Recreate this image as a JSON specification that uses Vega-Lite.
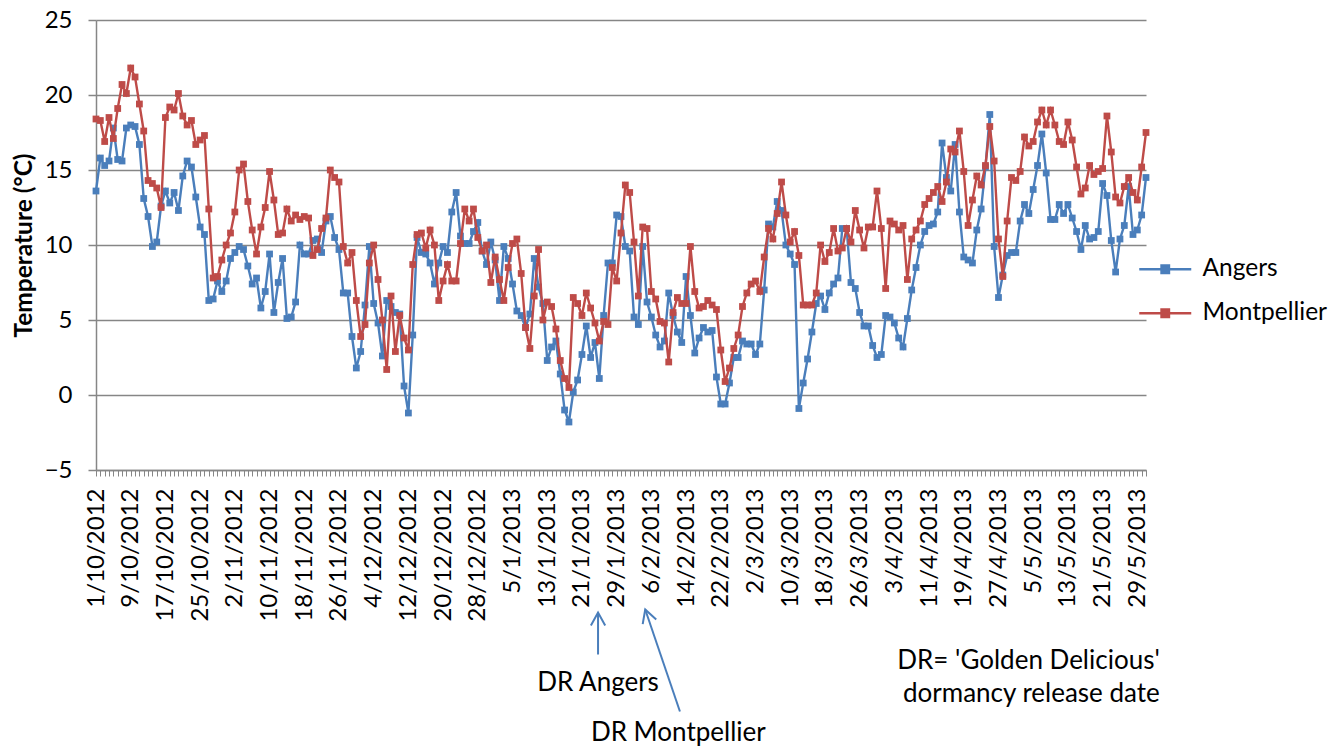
{
  "$schema": "https://vega.github.io/schema/vega-lite/v6.json",
  "width": 1050,
  "height": 450,
  "autosize": {"type": "none"},
  "padding": {"left": 96, "top": 20, "right": 197, "bottom": 279},
  "background": "white",
  "config": {"view": {"stroke": null}, "font": "Lato"},
  "datasets": {
    "temps": [
      {"date":"2012-10-01","Angers":13.6,"Montpellier":18.4},
      {"date":"2012-10-02","Angers":15.8,"Montpellier":18.3},
      {"date":"2012-10-03","Angers":15.3,"Montpellier":16.9},
      {"date":"2012-10-04","Angers":15.6,"Montpellier":18.5},
      {"date":"2012-10-05","Angers":17.8,"Montpellier":17.1},
      {"date":"2012-10-06","Angers":15.7,"Montpellier":19.1},
      {"date":"2012-10-07","Angers":15.6,"Montpellier":20.7},
      {"date":"2012-10-08","Angers":17.8,"Montpellier":20.1},
      {"date":"2012-10-09","Angers":18.0,"Montpellier":21.8},
      {"date":"2012-10-10","Angers":17.9,"Montpellier":21.2},
      {"date":"2012-10-11","Angers":16.7,"Montpellier":19.4},
      {"date":"2012-10-12","Angers":13.1,"Montpellier":17.6},
      {"date":"2012-10-13","Angers":11.9,"Montpellier":14.3},
      {"date":"2012-10-14","Angers":9.9,"Montpellier":14.1},
      {"date":"2012-10-15","Angers":10.2,"Montpellier":13.8},
      {"date":"2012-10-16","Angers":12.6,"Montpellier":12.5},
      {"date":"2012-10-17","Angers":13.6,"Montpellier":18.5},
      {"date":"2012-10-18","Angers":12.8,"Montpellier":19.2},
      {"date":"2012-10-19","Angers":13.5,"Montpellier":19.0},
      {"date":"2012-10-20","Angers":12.3,"Montpellier":20.1},
      {"date":"2012-10-21","Angers":14.6,"Montpellier":18.6},
      {"date":"2012-10-22","Angers":15.6,"Montpellier":18.0},
      {"date":"2012-10-23","Angers":15.2,"Montpellier":18.3},
      {"date":"2012-10-24","Angers":13.2,"Montpellier":16.7},
      {"date":"2012-10-25","Angers":11.2,"Montpellier":17.0},
      {"date":"2012-10-26","Angers":10.7,"Montpellier":17.3},
      {"date":"2012-10-27","Angers":6.3,"Montpellier":12.4},
      {"date":"2012-10-28","Angers":6.4,"Montpellier":7.8},
      {"date":"2012-10-29","Angers":7.6,"Montpellier":7.9},
      {"date":"2012-10-30","Angers":6.9,"Montpellier":9.0},
      {"date":"2012-10-31","Angers":7.6,"Montpellier":10.0},
      {"date":"2012-11-01","Angers":9.1,"Montpellier":10.8},
      {"date":"2012-11-02","Angers":9.5,"Montpellier":12.2},
      {"date":"2012-11-03","Angers":9.9,"Montpellier":15.0},
      {"date":"2012-11-04","Angers":9.7,"Montpellier":15.4},
      {"date":"2012-11-05","Angers":8.6,"Montpellier":12.9},
      {"date":"2012-11-06","Angers":7.4,"Montpellier":11.0},
      {"date":"2012-11-07","Angers":7.8,"Montpellier":9.4},
      {"date":"2012-11-08","Angers":5.8,"Montpellier":11.2},
      {"date":"2012-11-09","Angers":6.9,"Montpellier":12.5},
      {"date":"2012-11-10","Angers":9.4,"Montpellier":14.9},
      {"date":"2012-11-11","Angers":5.5,"Montpellier":13.0},
      {"date":"2012-11-12","Angers":7.5,"Montpellier":10.7},
      {"date":"2012-11-13","Angers":9.1,"Montpellier":10.8},
      {"date":"2012-11-14","Angers":5.1,"Montpellier":12.4},
      {"date":"2012-11-15","Angers":5.2,"Montpellier":11.6},
      {"date":"2012-11-16","Angers":6.2,"Montpellier":12.0},
      {"date":"2012-11-17","Angers":10.0,"Montpellier":11.7},
      {"date":"2012-11-18","Angers":9.4,"Montpellier":11.9},
      {"date":"2012-11-19","Angers":9.4,"Montpellier":11.8},
      {"date":"2012-11-20","Angers":10.3,"Montpellier":9.3},
      {"date":"2012-11-21","Angers":10.4,"Montpellier":9.7},
      {"date":"2012-11-22","Angers":9.5,"Montpellier":11.1},
      {"date":"2012-11-23","Angers":11.6,"Montpellier":11.8},
      {"date":"2012-11-24","Angers":11.9,"Montpellier":15.0},
      {"date":"2012-11-25","Angers":10.5,"Montpellier":14.5},
      {"date":"2012-11-26","Angers":9.7,"Montpellier":14.2},
      {"date":"2012-11-27","Angers":6.8,"Montpellier":9.9},
      {"date":"2012-11-28","Angers":6.8,"Montpellier":8.8},
      {"date":"2012-11-29","Angers":3.9,"Montpellier":9.5},
      {"date":"2012-11-30","Angers":1.8,"Montpellier":6.3},
      {"date":"2012-12-01","Angers":2.9,"Montpellier":3.9},
      {"date":"2012-12-02","Angers":6.0,"Montpellier":4.7},
      {"date":"2012-12-03","Angers":9.9,"Montpellier":8.8},
      {"date":"2012-12-04","Angers":6.1,"Montpellier":10.0},
      {"date":"2012-12-05","Angers":4.8,"Montpellier":7.7},
      {"date":"2012-12-06","Angers":2.6,"Montpellier":5.0},
      {"date":"2012-12-07","Angers":6.3,"Montpellier":1.7},
      {"date":"2012-12-08","Angers":5.9,"Montpellier":6.6},
      {"date":"2012-12-09","Angers":5.5,"Montpellier":2.9},
      {"date":"2012-12-10","Angers":5.4,"Montpellier":5.3},
      {"date":"2012-12-11","Angers":0.6,"Montpellier":3.8},
      {"date":"2012-12-12","Angers":-1.2,"Montpellier":3.0},
      {"date":"2012-12-13","Angers":4.0,"Montpellier":8.7},
      {"date":"2012-12-14","Angers":10.5,"Montpellier":10.7},
      {"date":"2012-12-15","Angers":9.5,"Montpellier":10.8},
      {"date":"2012-12-16","Angers":9.4,"Montpellier":9.8},
      {"date":"2012-12-17","Angers":8.8,"Montpellier":11.0},
      {"date":"2012-12-18","Angers":7.4,"Montpellier":10.0},
      {"date":"2012-12-19","Angers":8.8,"Montpellier":6.3},
      {"date":"2012-12-20","Angers":9.9,"Montpellier":7.6},
      {"date":"2012-12-21","Angers":9.5,"Montpellier":8.7},
      {"date":"2012-12-22","Angers":12.2,"Montpellier":7.6},
      {"date":"2012-12-23","Angers":13.5,"Montpellier":7.6},
      {"date":"2012-12-24","Angers":10.6,"Montpellier":10.1},
      {"date":"2012-12-25","Angers":10.1,"Montpellier":12.4},
      {"date":"2012-12-26","Angers":10.1,"Montpellier":11.6},
      {"date":"2012-12-27","Angers":10.9,"Montpellier":12.4},
      {"date":"2012-12-28","Angers":11.5,"Montpellier":10.5},
      {"date":"2012-12-29","Angers":9.6,"Montpellier":9.6},
      {"date":"2012-12-30","Angers":8.7,"Montpellier":10.0},
      {"date":"2012-12-31","Angers":10.2,"Montpellier":7.5},
      {"date":"2013-01-01","Angers":9.0,"Montpellier":9.2},
      {"date":"2013-01-02","Angers":6.3,"Montpellier":7.7},
      {"date":"2013-01-03","Angers":9.9,"Montpellier":6.3},
      {"date":"2013-01-04","Angers":9.1,"Montpellier":8.5},
      {"date":"2013-01-05","Angers":7.4,"Montpellier":10.1},
      {"date":"2013-01-06","Angers":5.6,"Montpellier":10.4},
      {"date":"2013-01-07","Angers":5.3,"Montpellier":8.1},
      {"date":"2013-01-08","Angers":4.5,"Montpellier":4.5},
      {"date":"2013-01-09","Angers":5.4,"Montpellier":3.1},
      {"date":"2013-01-10","Angers":9.1,"Montpellier":6.6},
      {"date":"2013-01-11","Angers":7.2,"Montpellier":9.7},
      {"date":"2013-01-12","Angers":6.1,"Montpellier":5.0},
      {"date":"2013-01-13","Angers":2.3,"Montpellier":6.2},
      {"date":"2013-01-14","Angers":3.2,"Montpellier":5.9},
      {"date":"2013-01-15","Angers":3.6,"Montpellier":4.4},
      {"date":"2013-01-16","Angers":1.4,"Montpellier":2.3},
      {"date":"2013-01-17","Angers":-1.0,"Montpellier":1.1},
      {"date":"2013-01-18","Angers":-1.8,"Montpellier":0.5},
      {"date":"2013-01-19","Angers":0.2,"Montpellier":6.5},
      {"date":"2013-01-20","Angers":1.0,"Montpellier":6.1},
      {"date":"2013-01-21","Angers":2.7,"Montpellier":5.3},
      {"date":"2013-01-22","Angers":4.6,"Montpellier":6.8},
      {"date":"2013-01-23","Angers":2.5,"Montpellier":5.8},
      {"date":"2013-01-24","Angers":3.5,"Montpellier":4.8},
      {"date":"2013-01-25","Angers":1.1,"Montpellier":3.6},
      {"date":"2013-01-26","Angers":5.3,"Montpellier":4.9},
      {"date":"2013-01-27","Angers":8.8,"Montpellier":4.7},
      {"date":"2013-01-28","Angers":8.8,"Montpellier":8.5},
      {"date":"2013-01-29","Angers":12.0,"Montpellier":7.6},
      {"date":"2013-01-30","Angers":11.9,"Montpellier":10.8},
      {"date":"2013-01-31","Angers":9.9,"Montpellier":14.0},
      {"date":"2013-02-01","Angers":9.6,"Montpellier":13.5},
      {"date":"2013-02-02","Angers":5.2,"Montpellier":10.2},
      {"date":"2013-02-03","Angers":4.7,"Montpellier":6.6},
      {"date":"2013-02-04","Angers":9.9,"Montpellier":11.2},
      {"date":"2013-02-05","Angers":6.2,"Montpellier":11.1},
      {"date":"2013-02-06","Angers":5.2,"Montpellier":6.9},
      {"date":"2013-02-07","Angers":4.0,"Montpellier":6.4},
      {"date":"2013-02-08","Angers":3.2,"Montpellier":4.9},
      {"date":"2013-02-09","Angers":3.6,"Montpellier":4.8},
      {"date":"2013-02-10","Angers":6.8,"Montpellier":2.2},
      {"date":"2013-02-11","Angers":5.3,"Montpellier":5.5},
      {"date":"2013-02-12","Angers":4.2,"Montpellier":6.5},
      {"date":"2013-02-13","Angers":3.5,"Montpellier":6.1},
      {"date":"2013-02-14","Angers":7.9,"Montpellier":6.1},
      {"date":"2013-02-15","Angers":5.3,"Montpellier":9.9},
      {"date":"2013-02-16","Angers":2.8,"Montpellier":6.9},
      {"date":"2013-02-17","Angers":3.8,"Montpellier":5.8},
      {"date":"2013-02-18","Angers":4.5,"Montpellier":5.9},
      {"date":"2013-02-19","Angers":4.2,"Montpellier":6.3},
      {"date":"2013-02-20","Angers":4.3,"Montpellier":6.0},
      {"date":"2013-02-21","Angers":1.2,"Montpellier":5.7},
      {"date":"2013-02-22","Angers":-0.6,"Montpellier":3.0},
      {"date":"2013-02-23","Angers":-0.6,"Montpellier":0.9},
      {"date":"2013-02-24","Angers":0.8,"Montpellier":1.8},
      {"date":"2013-02-25","Angers":2.5,"Montpellier":3.1},
      {"date":"2013-02-26","Angers":2.5,"Montpellier":4.0},
      {"date":"2013-02-27","Angers":3.6,"Montpellier":5.9},
      {"date":"2013-02-28","Angers":3.4,"Montpellier":6.8},
      {"date":"2013-03-01","Angers":3.4,"Montpellier":7.4},
      {"date":"2013-03-02","Angers":2.7,"Montpellier":7.6},
      {"date":"2013-03-03","Angers":3.4,"Montpellier":6.9},
      {"date":"2013-03-04","Angers":7.0,"Montpellier":9.2},
      {"date":"2013-03-05","Angers":11.4,"Montpellier":11.1},
      {"date":"2013-03-06","Angers":11.2,"Montpellier":10.4},
      {"date":"2013-03-07","Angers":12.9,"Montpellier":12.1},
      {"date":"2013-03-08","Angers":12.3,"Montpellier":14.2},
      {"date":"2013-03-09","Angers":10.0,"Montpellier":12.0},
      {"date":"2013-03-10","Angers":9.4,"Montpellier":10.2},
      {"date":"2013-03-11","Angers":8.7,"Montpellier":10.9},
      {"date":"2013-03-12","Angers":-0.9,"Montpellier":9.3},
      {"date":"2013-03-13","Angers":0.8,"Montpellier":6.0},
      {"date":"2013-03-14","Angers":2.4,"Montpellier":6.0},
      {"date":"2013-03-15","Angers":4.2,"Montpellier":6.0},
      {"date":"2013-03-16","Angers":6.1,"Montpellier":6.8},
      {"date":"2013-03-17","Angers":6.6,"Montpellier":10.0},
      {"date":"2013-03-18","Angers":5.7,"Montpellier":8.9},
      {"date":"2013-03-19","Angers":6.8,"Montpellier":9.5},
      {"date":"2013-03-20","Angers":7.4,"Montpellier":11.1},
      {"date":"2013-03-21","Angers":7.8,"Montpellier":9.6},
      {"date":"2013-03-22","Angers":11.1,"Montpellier":9.8},
      {"date":"2013-03-23","Angers":11.1,"Montpellier":11.1},
      {"date":"2013-03-24","Angers":7.5,"Montpellier":10.2},
      {"date":"2013-03-25","Angers":7.1,"Montpellier":12.3},
      {"date":"2013-03-26","Angers":5.5,"Montpellier":11.0},
      {"date":"2013-03-27","Angers":4.6,"Montpellier":9.8},
      {"date":"2013-03-28","Angers":4.6,"Montpellier":11.2},
      {"date":"2013-03-29","Angers":3.3,"Montpellier":11.2},
      {"date":"2013-03-30","Angers":2.5,"Montpellier":13.6},
      {"date":"2013-03-31","Angers":2.7,"Montpellier":11.1},
      {"date":"2013-04-01","Angers":5.3,"Montpellier":7.1},
      {"date":"2013-04-02","Angers":5.2,"Montpellier":11.6},
      {"date":"2013-04-03","Angers":4.8,"Montpellier":11.4},
      {"date":"2013-04-04","Angers":3.8,"Montpellier":11.0},
      {"date":"2013-04-05","Angers":3.2,"Montpellier":11.3},
      {"date":"2013-04-06","Angers":5.1,"Montpellier":7.7},
      {"date":"2013-04-07","Angers":7.0,"Montpellier":10.4},
      {"date":"2013-04-08","Angers":8.5,"Montpellier":11.0},
      {"date":"2013-04-09","Angers":10.0,"Montpellier":11.6},
      {"date":"2013-04-10","Angers":10.9,"Montpellier":12.7},
      {"date":"2013-04-11","Angers":11.3,"Montpellier":13.1},
      {"date":"2013-04-12","Angers":11.4,"Montpellier":13.5},
      {"date":"2013-04-13","Angers":12.2,"Montpellier":13.9},
      {"date":"2013-04-14","Angers":16.8,"Montpellier":12.9},
      {"date":"2013-04-15","Angers":14.5,"Montpellier":14.2},
      {"date":"2013-04-16","Angers":13.6,"Montpellier":16.4},
      {"date":"2013-04-17","Angers":16.7,"Montpellier":16.2},
      {"date":"2013-04-18","Angers":12.2,"Montpellier":17.6},
      {"date":"2013-04-19","Angers":9.2,"Montpellier":14.9},
      {"date":"2013-04-20","Angers":9.0,"Montpellier":11.3},
      {"date":"2013-04-21","Angers":8.8,"Montpellier":13.0},
      {"date":"2013-04-22","Angers":11.0,"Montpellier":14.6},
      {"date":"2013-04-23","Angers":12.4,"Montpellier":14.0},
      {"date":"2013-04-24","Angers":15.2,"Montpellier":15.3},
      {"date":"2013-04-25","Angers":18.7,"Montpellier":17.9},
      {"date":"2013-04-26","Angers":9.9,"Montpellier":15.6},
      {"date":"2013-04-27","Angers":6.5,"Montpellier":10.4},
      {"date":"2013-04-28","Angers":8.0,"Montpellier":7.9},
      {"date":"2013-04-29","Angers":9.3,"Montpellier":11.6},
      {"date":"2013-04-30","Angers":9.5,"Montpellier":14.5},
      {"date":"2013-05-01","Angers":9.5,"Montpellier":14.3},
      {"date":"2013-05-02","Angers":11.6,"Montpellier":14.9},
      {"date":"2013-05-03","Angers":12.7,"Montpellier":17.2},
      {"date":"2013-05-04","Angers":12.1,"Montpellier":16.6},
      {"date":"2013-05-05","Angers":13.7,"Montpellier":16.9},
      {"date":"2013-05-06","Angers":15.3,"Montpellier":18.2},
      {"date":"2013-05-07","Angers":17.4,"Montpellier":19.0},
      {"date":"2013-05-08","Angers":14.8,"Montpellier":18.0},
      {"date":"2013-05-09","Angers":11.7,"Montpellier":19.0},
      {"date":"2013-05-10","Angers":11.7,"Montpellier":18.0},
      {"date":"2013-05-11","Angers":12.7,"Montpellier":16.9},
      {"date":"2013-05-12","Angers":12.1,"Montpellier":16.7},
      {"date":"2013-05-13","Angers":12.7,"Montpellier":18.2},
      {"date":"2013-05-14","Angers":11.8,"Montpellier":17.0},
      {"date":"2013-05-15","Angers":10.9,"Montpellier":15.2},
      {"date":"2013-05-16","Angers":9.7,"Montpellier":13.4},
      {"date":"2013-05-17","Angers":11.3,"Montpellier":13.8},
      {"date":"2013-05-18","Angers":10.4,"Montpellier":15.3},
      {"date":"2013-05-19","Angers":10.5,"Montpellier":14.7},
      {"date":"2013-05-20","Angers":10.9,"Montpellier":14.9},
      {"date":"2013-05-21","Angers":14.1,"Montpellier":15.1},
      {"date":"2013-05-22","Angers":13.3,"Montpellier":18.6},
      {"date":"2013-05-23","Angers":10.3,"Montpellier":16.2},
      {"date":"2013-05-24","Angers":8.2,"Montpellier":13.2},
      {"date":"2013-05-25","Angers":10.4,"Montpellier":12.8},
      {"date":"2013-05-26","Angers":11.3,"Montpellier":13.9},
      {"date":"2013-05-27","Angers":13.9,"Montpellier":14.5},
      {"date":"2013-05-28","Angers":10.7,"Montpellier":13.5},
      {"date":"2013-05-29","Angers":11.0,"Montpellier":13.0},
      {"date":"2013-05-30","Angers":12.0,"Montpellier":15.2},
      {"date":"2013-05-31","Angers":14.5,"Montpellier":17.5}
    ],
    "arrows": [
      {"date":"2013-01-24T17:00:00Z","temp":-14.5,"date2":"2013-01-24T17:00:00Z","temp2":-17.3,"angle":0},
      {"date":"2013-02-04T14:00:00Z","temp":-14.3,"date2":"2013-02-12T14:00:00Z","temp2":-21.1,"angle":-19}
    ],
    "notes": [
      {"date":"2013-01-24T17:00:00Z","temp":-19.2,"label":"DR Angers"},
      {"date":"2013-02-12T05:00:00Z","temp":-22.5,"label":"DR Montpellier"},
      {"date":"2013-05-03T22:00:00Z","temp":-17.7,"label":"DR= 'Golden Delicious'"},
      {"date":"2013-05-04T14:00:00Z","temp":-19.9,"label":"dormancy release date"}
    ]
  },
  "encoding": {
    "x": {
      "field": "date",
      "type": "temporal",
      "scale": {"type": "utc", "domain": [{"year":2012,"month":10,"date":1,"utc":true},{"year":2013,"month":5,"date":31,"utc":true}], "nice": false},
      "axis": {
        "title": null,
        "tickCount": {"interval": "day", "step": 1},
        "labelExpr": "(round((datum.value - utc(2012,9,1))/86400000) % 8 == 0) ? utcFormat(datum.value, '%-d/%-m/%Y') : ''",
        "labelAngle": 270,
        "labelAlign": "right",
        "labelBaseline": "middle",
        "labelFontSize": 24,
        "labelFont": "Lato",
        "labelColor": "black",
        "labelPadding": 12,
        "labelOverlap": false,
        "labelFlush": false,
        "labelBound": false,
        "labelLimit": 0,
        "tickSize": 6,
        "tickColor": "#868686",
        "tickWidth": 1,
        "domainColor": "#868686",
        "domainWidth": 1.5,
        "grid": false
      }
    },
    "y": {
      "field": "temp",
      "type": "quantitative",
      "scale": {"domain": [-5, 25], "nice": false, "zero": false},
      "axis": {
        "values": [-5, 0, 5, 10, 15, 20, 25],
        "title": "Temperature (°C)",
        "titleFont": "Lato",
        "titleFontSize": 24.5,
        "titleFontWeight": "bold",
        "titleColor": "black",
        "titlePadding": 8,
        "labelFont": "Lato",
        "labelFontSize": 24,
        "labelColor": "black",
        "labelPadding": 16,
        "tickSize": 8,
        "tickColor": "#868686",
        "tickWidth": 1.5,
        "domainColor": "#868686",
        "domainWidth": 1.5,
        "gridColor": "#868686",
        "gridWidth": 1.5
      }
    }
  },
  "layer": [
    {
      "data": {"name": "temps"},
      "transform": [
        {"fold": ["Angers", "Montpellier"], "as": ["site", "temp"]},
        {"filter": "datum.site === 'Angers'"}
      ],
      "mark": {"type": "line", "strokeWidth": 2.4, "point": {"shape": "square", "size": 46, "filled": true, "opacity": 1}},
      "encoding": {
        "color": {
          "field": "site",
          "type": "nominal",
          "scale": {"domain": ["Angers", "Montpellier"], "range": ["#4A7EBB", "#BE4B48"]},
          "legend": {
            "title": null,
            "orient": "none",
            "legendX": 1057,
            "legendY": 237,
            "padding": 0,
            "symbolType": "M-5.2,0H5.2M-0.75,-0.75H0.75V0.75H-0.75Z",
            "symbolSize": 100,
            "symbolStrokeWidth": 2.4,
            "labelFont": "Lato",
            "labelFontSize": 24.5,
            "labelColor": "black",
            "labelOffset": 25,
            "labelLimit": 400,
            "rowPadding": 19,
            "encode": {"symbols": {"update": {"fill": {"scale": "color", "field": "value"}, "stroke": {"scale": "color", "field": "value"}, "opacity": {"value": 1}}}}
          }
        }
      }
    },
    {
      "data": {"name": "temps"},
      "transform": [
        {"fold": ["Angers", "Montpellier"], "as": ["site", "temp"]},
        {"filter": "datum.site === 'Montpellier'"}
      ],
      "mark": {"type": "line", "strokeWidth": 2.4, "point": {"shape": "square", "size": 46, "filled": true, "opacity": 1}},
      "encoding": {
        "color": {"field": "site", "type": "nominal"}
      }
    },
    {
      "data": {"name": "arrows"},
      "mark": {"type": "rule", "color": "#4A7EBB", "strokeWidth": 2},
      "encoding": {
        "x2": {"field": "date2"},
        "y2": {"field": "temp2"}
      }
    },
    {
      "data": {"name": "arrows"},
      "mark": {"type": "point", "shape": "M-0.55,1L0,0L0.55,1", "filled": false, "stroke": "#4A7EBB", "strokeWidth": 2, "size": 676, "opacity": 1},
      "encoding": {
        "angle": {"field": "angle", "type": "quantitative", "scale": null}
      }
    },
    {
      "data": {"name": "notes"},
      "mark": {"type": "text", "font": "Lato", "fontSize": 26, "color": "black", "align": "center", "baseline": "middle"},
      "encoding": {
        "text": {"field": "label", "type": "nominal"}
      }
    }
  ]
}
